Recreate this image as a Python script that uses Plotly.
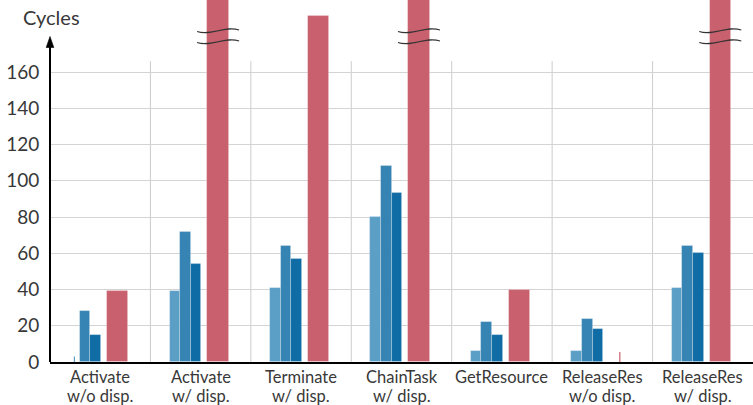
import plotly.graph_objects as go

categories = ["Activate<br>w/o disp.", "Activate<br>w/ disp.", "Terminate<br>w/ disp.",
              "ChainTask<br>w/ disp.", "GetResource", "ReleaseRes<br>w/o disp.", "ReleaseRes<br>w/ disp."]
series_a = [None, 39, 41, 80, 6, 6, 41]      # light blue
series_b = [28, 72, 64, 108, 22, 24, 64]     # medium blue
series_c = [15, 54, 57, 93, 15, 18, 60]      # dark blue
series_d = [39, 260, 191, 260, 40, None, 260]  # red (260 = off-scale, broken)
y_ticks = [0, 20, 40, 60, 80, 100, 120, 140, 160]

colors = ["#5b9ec6", "#3584b3", "#106ca4", "#c8606d"]
offsets = [-0.31, -0.204, -0.098, 0.068]
widths = [0.106, 0.106, 0.106, 0.212]

PX_PER_UNIT = 1.8125
PLOT_H = 362
Y_MAX = PLOT_H / PX_PER_UNIT
PLOT_W = 703
X_UNIT = PLOT_W / 7.0
TEXT = "#383838"
FONT = "Lato"

x = list(range(len(categories)))
fig = go.Figure()
for vals, col, off, w in zip([series_a, series_b, series_c, series_d], colors, offsets, widths):
    fig.add_trace(go.Bar(
        x=x, y=[v if v is not None else 0 for v in vals],
        offset=off, width=w,
        marker=dict(color=col, line=dict(color="rgba(255,255,255,0.35)", width=0.8)),
        showlegend=False, hoverinfo="skip"))

# markers for missing values
for vals, col, off, w, ylo, yhi in [(series_a, colors[0], offsets[0], widths[0], -2.6, 3.0),
                                     (series_d, colors[3], offsets[3], widths[3], 0, 5.5)]:
    for i, v in enumerate(vals):
        if v is None:
            cx = i + off + w / 2
            fig.add_trace(go.Scatter(x=[cx, cx], y=[ylo, yhi], mode="lines",
                                     line=dict(color=col, width=1.2), cliponaxis=False,
                                     showlegend=False, hoverinfo="skip"))

shapes = []
for i in range(len(categories) - 1):
    shapes.append(dict(type="line", xref="x", yref="y", x0=i + 0.5, x1=i + 0.5, y0=0, y1=166,
                       line=dict(color="#cccccc", width=1), layer="below"))


def py2paper(py):
    return (PLOT_H - py) / PLOT_H


# y axis line with arrow (paper refs so it is not clipped)
shapes.append(dict(type="line", xref="paper", yref="paper", x0=0, x1=0, y0=0, y1=py2paper(45),
                   line=dict(color="black", width=2)))
hwp = 3.8 / PLOT_W
shapes.append(dict(type="path", xref="paper", yref="paper",
                   path=f"M {-hwp},{py2paper(47.5)} L 0,{py2paper(36.5)} L {hwp},{py2paper(47.5)} Z",
                   fillcolor="black", line=dict(color="black", width=0.6)))


def px2y(py):
    return (PLOT_H - py) / PX_PER_UNIT


for i, v in enumerate(series_d):
    if v is not None and v > Y_MAX:
        cx = i + offsets[3] + widths[3] / 2
        hx = 21 / X_UNIT
        for dy in (0, 11):
            p = (f"M {cx - hx},{px2y(31.5 + dy)} "
                 f"C {cx - hx + 14 / X_UNIT},{px2y(36.5 + dy)} {cx - hx + 28 / X_UNIT},{px2y(25 + dy)} "
                 f"{cx + hx},{px2y(30 + dy)}")
            shapes.append(dict(type="path", xref="x", yref="y", path=p,
                               line=dict(color="#333333", width=1.1)))

annotations = [dict(text="Cycles", xref="paper", yref="paper", x=(21 - 50) / PLOT_W, y=py2paper(17),
                    xanchor="left", yanchor="middle", showarrow=False,
                    font=dict(size=20, family=FONT, color=TEXT))]
for i, lab in enumerate(categories):
    for j, line in enumerate(lab.split("<br>")):
        annotations.append(dict(text=line, xref="x", yref="paper", x=i, y=-(15 + 19 * j) / PLOT_H,
                                xanchor="center", yanchor="middle", showarrow=False,
                                font=dict(size=16.5, family=FONT, color=TEXT)))

fig.update_layout(
    width=753, height=405,
    margin=dict(l=50, r=0, t=0, b=43, autoexpand=False),
    plot_bgcolor="white", paper_bgcolor="white",
    bargap=0,
    font=dict(family=FONT, color=TEXT),
    shapes=shapes,
    annotations=annotations,
    xaxis=dict(range=[-0.5, 6.5], tickvals=x, showticklabels=False, automargin=False,
               showgrid=False, zeroline=False, showline=True, linecolor="black", linewidth=2),
    yaxis=dict(range=[0, Y_MAX], tickvals=y_ticks, automargin=False,
               tickfont=dict(size=19, family=FONT, color=TEXT),
               showgrid=True, gridcolor="#d4d4d4", gridwidth=1, zeroline=False, showline=False,
               ticks="outside", ticklen=6, tickcolor="rgba(0,0,0,0)"),
)

fig.write_html("out.html", config={"displayModeBar": False},
               post_script="document.body.style.margin='0';document.body.style.overflow='hidden';")
